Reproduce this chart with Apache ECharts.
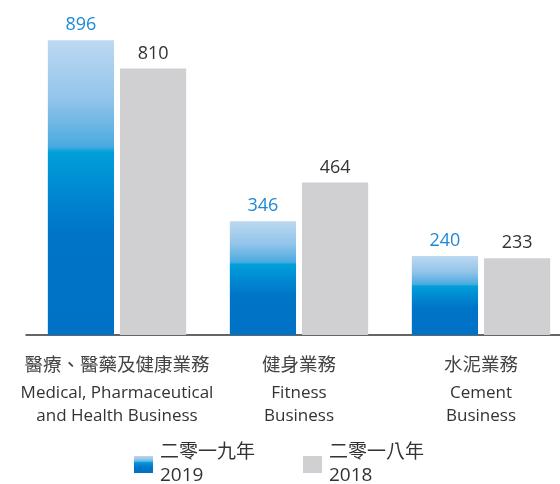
<!DOCTYPE html>
<html>
<head>
<meta charset="utf-8">
<script src="https://cdn.jsdelivr.net/npm/echarts@6/dist/echarts.min.js"></script>
<style>
  html, body { margin: 0; padding: 0; background: #fff; }
  #chart { width: 560px; height: 484px; }
</style>
</head>
<body>
<div id="chart"></div>
<script>
// 分部數據
const categoriesZh = ['醫療、醫藥及健康業務', '健身業務', '水泥業務'];
const categoriesEn = ['Medical, Pharmaceutical\nand Health Business', 'Fitness\nBusiness', 'Cement\nBusiness'];
const values2019 = [896, 346, 240];
const values2018 = [810, 464, 233];
const name2019 = '二零一九年\n2019';
const name2018 = '二零一八年\n2018';

const blueGrad = {
  type: 'linear',
  x: 0, y: 0, x2: 0, y2: 1,
  colorStops: [
    { offset: 0, color: '#bcd9f1' },
    { offset: 0.2, color: '#92c4ea' },
    { offset: 0.36, color: '#4aaadf' },
    { offset: 0.38, color: '#00a0da' },
    { offset: 0.5, color: '#008bd2' },
    { offset: 0.66, color: '#0074c7' },
    { offset: 1, color: '#0072c6' }
  ]
};

const chart = echarts.init(document.getElementById('chart'));
chart.setOption({
  animation: false,
  backgroundColor: '#fff',
  grid: { left: 26, top: 39, width: 546, height: 296, containLabel: false, outerBoundsMode: 'none' },
  legend: {
    left: 134,
    top: 440,
    padding: 0,
    itemWidth: 19,
    itemHeight: 17,
    itemGap: 48,
    icon: 'rect',
    textStyle: {
      fontFamily: 'Open Sans, Noto Sans CJK TC',
      fontSize: 19,
      lineHeight: 23,
      color: '#333',
      padding: [3, 0, 0, 2]
    },
    data: [name2019, name2018]
  },
  xAxis: {
    type: 'category',
    data: categoriesZh,
    axisLine: { lineStyle: { color: '#333', width: 1.5 } },
    axisTick: { show: false },
    axisLabel: {
      margin: 10,
      interval: 0,
      hideOverlap: false,
      formatter: (v, i) => {
        const en = categoriesEn[i].split('\n').map(s => `{en|${s}}`).join('\n');
        return `{zh|${v}}\n${en}`;
      },
      rich: {
        zh: { fontFamily: 'Noto Sans CJK TC', fontSize: 18.5, lineHeight: 37, color: '#444' },
        en: { fontFamily: 'Open Sans', fontSize: 17, lineHeight: 23, color: '#333' }
      }
    }
  },
  yAxis: {
    type: 'value',
    min: 0,
    max: 900,
    show: false
  },
  series: [
    {
      name: name2019,
      type: 'bar',
      data: values2019,
      barGap: '9%',
      barCategoryGap: '24%',
      itemStyle: { color: blueGrad },
      label: {
        show: true,
        position: 'top',
        distance: 6,
        fontFamily: 'Open Sans',
        fontSize: 18,
        color: '#1e88d8'
      }
    },
    {
      name: name2018,
      type: 'bar',
      data: values2018,
      itemStyle: { color: '#d0d0d2' },
      label: {
        show: true,
        position: 'top',
        distance: 6,
        fontFamily: 'Open Sans',
        fontSize: 18,
        color: '#333'
      }
    }
  ]
});
</script>
</body>
</html>
